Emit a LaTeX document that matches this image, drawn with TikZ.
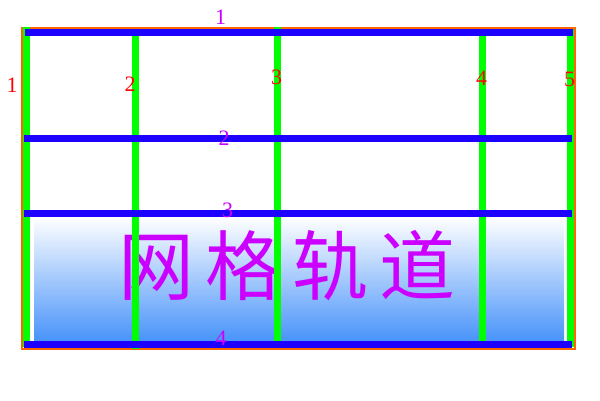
\documentclass[tikz,border=0pt]{standalone}
\usepackage{fontspec}
\setmainfont{Liberation Serif}
\newfontfamily\cjk{Noto Sans CJK SC}
\definecolor{frameorange}{RGB}{255,102,0}
\definecolor{railblue}{RGB}{30,0,255}
\definecolor{railgreen}{RGB}{0,255,0}
\definecolor{gradblue}{RGB}{74,148,250}
\definecolor{labmag}{RGB}{204,0,255}
\definecolor{labred}{RGB}{255,0,0}
\tikzset{
  hrail/.style={draw=railblue, line width=7pt},
  vrail/.style={draw=railgreen, line width=7pt},
  rowlab/.style={text=labmag, font=\fontsize{22}{22}\selectfont, inner sep=0pt},
  collab/.style={text=labred, font=\fontsize{22}{22}\selectfont, inner sep=0pt},
  frame/.style={draw=frameorange, line width=2pt},
}
\begin{document}
\begin{tikzpicture}[x=1pt,y=-1pt]
\useasboundingbox (0,0) rectangle (600,400);
% gradient area
\shade[top color=white, bottom color=gradblue] (34,217) rectangle (564,340);
\node[text=labmag, inner sep=0pt, font=\cjk\fontsize{76}{76}\selectfont] (title) at (287,266) {网\hspace{11pt}格\hspace{11pt}轨\hspace{11pt}道};
% frame
\draw[frame] (22,28) rectangle (575,348.7);
% green vertical rails
\coordinate (v1a) at (26.5,27);  \coordinate (v1b) at (26.5,347);
\coordinate (v2a) at (135.5,36); \coordinate (v2b) at (135.5,349);
\coordinate (v3a) at (277.5,27); \coordinate (v3b) at (277.5,341);
\coordinate (v4a) at (482.5,36); \coordinate (v4b) at (482.5,341);
\coordinate (v5a) at (570.5,29); \coordinate (v5b) at (570.5,347);
\draw[vrail] (v1a) -- (v1b);
\draw[vrail] (v2a) -- (v2b);
\draw[vrail] (v3a) -- (v3b);
\draw[vrail] (v4a) -- (v4b);
\draw[vrail] (v5a) -- (v5b);
% blue horizontal rails
\coordinate (h1a) at (25,32.5);  \coordinate (h1b) at (573,32.5);
\coordinate (h2a) at (24,138);   \coordinate (h2b) at (572,138);
\coordinate (h3a) at (24,213.5); \coordinate (h3b) at (572,213.5);
\coordinate (h4a) at (24,344.5); \coordinate (h4b) at (572,344.5);
\draw[hrail] (h1a) -- (h1b);
\draw[hrail] (h2a) -- (h2b);
\draw[hrail] (h3a) -- (h3b);
\draw[hrail] (h4a) -- (h4b);
% row labels
\node[rowlab] (r1) at (220.5,17) {1};
\node[rowlab] (r2) at (224,138.5) {2};
\node[rowlab] (r3) at (227.5,210) {3};
\node[rowlab] (r4) at (221,338) {4};
% column labels
\node[collab] (c1) at (12,85.5) {1};
\node[collab] (c2) at (130,84) {2};
\node[collab] (c3) at (276.5,77) {3};
\node[collab] (c4) at (481.5,78) {4};
\node[collab] (c5) at (569.5,79) {5};
\end{tikzpicture}
\end{document}
